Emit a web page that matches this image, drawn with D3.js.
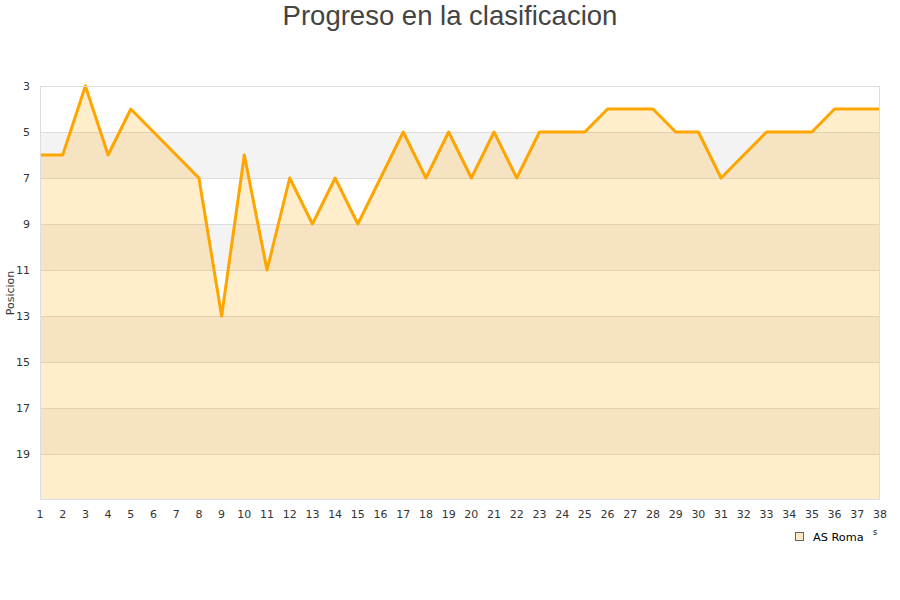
<!DOCTYPE html>
<html><head><meta charset="utf-8">
<script src="https://cdn.jsdelivr.net/npm/d3@7/dist/d3.min.js"></script>
<style>body{margin:0;background:#fff}svg{display:block}</style>
</head><body>
<svg id="c" width="900" height="600"></svg>
<script>
const jornadas = d3.range(1, 39);
const posiciones = [6,6,3,6,4,5,6,7,13,6,11,7,9,7,9,7,5,7,5,7,5,7,5,5,5,4,4,4,5,5,7,6,5,5,5,4,4,4];
const yTicks = [3,5,7,9,11,13,15,17,19];
const seriesName = "AS Roma";
const titleText = "Progreso en la clasificacion";
const yTitle = "Posicion";

const svg = d3.select("#c");
const L = 40, R = 880, T = 86, B = 500;
const x = d3.scaleLinear().domain([1, 38]).range([L, R]);
const y = d3.scaleLinear().domain([3, 21]).range([T, B]);

// bands
const bands = d3.range(3, 21, 2);
svg.append("g").selectAll("rect").data(bands).join("rect")
  .attr("x", L).attr("width", R - L)
  .attr("y", d => y(d)).attr("height", d => y(d + 2) - y(d))
  .attr("fill", (d, i) => i % 2 ? "#f3f3f3" : "#ffffff");
// grid
svg.append("g").selectAll("line").data(yTicks.slice(1)).join("line")
  .attr("x1", L).attr("x2", R).attr("y1", d => y(d)).attr("y2", d => y(d))
  .attr("stroke", "#dddddd").attr("stroke-width", 1).attr("shape-rendering", "crispEdges");

const data = jornadas.map((j, i) => [j, posiciones[i]]);
svg.append("path").datum(data)
  .attr("d", d3.area().x(d => x(d[0])).y0(B).y1(d => y(d[1])))
  .attr("fill", "#ffa500").attr("fill-opacity", 0.2);
svg.append("path").datum(data)
  .attr("d", d3.line().x(d => x(d[0])).y(d => y(d[1])))
  .attr("fill", "none").attr("stroke", "#ffa500").attr("stroke-width", 3)
  .attr("stroke-linejoin", "round");

// border
svg.append("rect").attr("x", L + 0.5).attr("y", T + 0.5).attr("width", R - L - 1).attr("height", B - T - 1)
  .attr("fill", "none").attr("stroke", "#dddddd");

// y tick labels
svg.append("g").selectAll("text").data(yTicks).join("text")
  .attr("x", 30).attr("y", d => y(d)).attr("dy", "0.35em")
  .attr("text-anchor", "end").attr("font-family", "DejaVu Sans").attr("font-size", 11)
  .attr("fill", "#333").text(d => d);
// x tick labels
svg.append("g").selectAll("text").data(jornadas).join("text")
  .attr("x", d => x(d)).attr("y", 518)
  .attr("text-anchor", "middle").attr("font-family", "DejaVu Sans").attr("font-size", 11)
  .attr("fill", "#333").text(d => d);

// title
svg.append("text").attr("x", 450).attr("y", 25).attr("text-anchor", "middle")
  .attr("font-family", "Liberation Sans, Arial, sans-serif").attr("font-size", 27.5)
  .attr("fill", "#444").text(titleText);
// y title
svg.append("text").attr("transform", "translate(14,293) rotate(-90)")
  .attr("text-anchor", "middle").attr("font-family", "DejaVu Sans").attr("font-size", 11)
  .attr("fill", "#333").text(yTitle);

// legend
svg.append("rect").attr("x", 795.5).attr("y", 532.5).attr("width", 8).attr("height", 8)
  .attr("fill", "#ffe9c4").attr("stroke", "#666").attr("stroke-width", 1);
svg.append("text").attr("x", 813).attr("y", 541).attr("font-family", "DejaVu Sans")
  .attr("font-size", 11.3).attr("fill", "#000").text(seriesName);
svg.append("text").attr("x", 873).attr("y", 535).attr("font-family", "DejaVu Sans")
  .attr("font-size", 8).attr("fill", "#000").text("s");
</script>
</body></html>
